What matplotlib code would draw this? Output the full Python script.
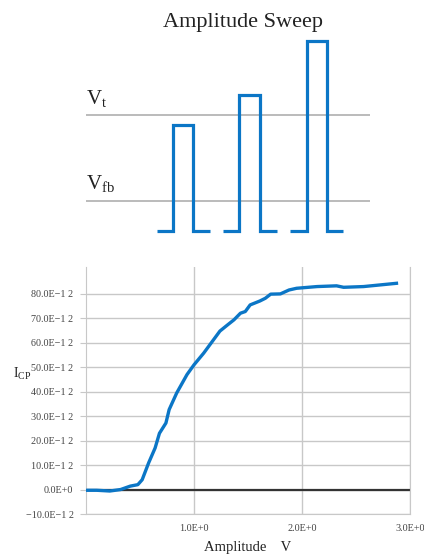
import matplotlib

matplotlib.use("Agg")
import matplotlib.pyplot as plt

plt.rcParams.update({
    "font.family": "Liberation Serif",
    "mathtext.fontset": "custom",
    "mathtext.rm": "Liberation Serif",
    "mathtext.it": "Liberation Serif:italic",
})

BLUE = "#0b76c6"
GRID = "#c8c8c8"

# --- top panel: pulse sketch (levels in arbitrary units, time in arbitrary units)
V_T = 1.16
V_FB = 0.30
LEVEL_X = [86, 370]
pulse_start = [157, 223, 290]
pulse_rise = [173, 239, 307]
pulse_fall = [193, 260, 327]
pulse_end = [210, 277, 343]
pulse_amp = [1.06, 1.36, 1.90]

# --- bottom panel: charge-pumping current vs amplitude
amp = [0.0, 0.10, 0.22, 0.32, 0.41, 0.48, 0.52, 0.58, 0.64, 0.68, 0.74, 0.77,
       0.84, 0.935, 1.0, 1.09, 1.18, 1.24, 1.31, 1.37, 1.43, 1.475, 1.52, 1.61,
       1.66, 1.71, 1.80, 1.88, 1.95, 2.14, 2.32, 2.385, 2.57, 2.89]
icp = [-0.3, -0.3, -0.6, 0.0, 1.4, 2.0, 4.0, 10.9, 17.0, 23.0, 27.2, 32.7,
       39.5, 47.0, 51.0, 55.8, 61.2, 64.8, 67.3, 69.4, 72.1, 72.8, 75.5, 77.1,
       78.2, 79.9, 80.0, 81.6, 82.3, 83.0, 83.3, 82.7, 83.0, 84.4]
y_ticks = [-10, 0, 10, 20, 30, 40, 50, 60, 70, 80]
y_labels = ["\u221210.0E\u22121 2", "0.0E+0"] + \
    [f"{v}.0E\u22121 2" for v in y_ticks[2:]]
x_ticks = [1, 2, 3]
x_labels = ["1.0E+0", "2.0E+0", "3.0E+0"]

W, H = 424, 557
fig = plt.figure(figsize=(W / 100, H / 100), dpi=100)

# top sketch
top = fig.add_axes([0, 1 - 250 / H, 1, 250 / H])
top.set_xlim(0, W)
top.set_ylim(-0.19, 2.31)
top.axis("off")
top.hlines([V_T, V_FB], LEVEL_X[0], LEVEL_X[1], color="#a8a8a8", lw=1.1)
for s, r, f, e, a in zip(pulse_start, pulse_rise, pulse_fall, pulse_end, pulse_amp):
    top.plot([s, r, r, f, f, e], [0, 0, a, a, 0, 0], color=BLUE, lw=2.3,
             solid_joinstyle="miter", solid_capstyle="butt")
top.text(243, 2.09, "Amplitude Sweep", ha="center", va="center", fontsize=16,
         color="#222222")
top.text(86, 1.27, r"V$_{\mathrm{t}}$", ha="left", va="baseline", fontsize=15,
         color="#222222")
top.text(86, 0.42, r"V$_{\mathrm{fb}}$", ha="left", va="baseline", fontsize=15,
         color="#222222")

# bottom chart
ax = fig.add_axes([86 / W, 1 - 514 / H, (410 - 86) / W, (514 - 267) / H])
ax.set_xlim(0, 3)
ax.set_ylim(-10, 91)
ax.set_yticks(y_ticks)
ax.set_yticklabels(y_labels)
ax.set_xticks(x_ticks)
ax.set_xticklabels(x_labels)
ax.grid(True, color=GRID, lw=1)
ax.set_axisbelow(True)
for side in ["left", "right", "bottom"]:
    ax.spines[side].set_color(GRID)
ax.spines["top"].set_visible(False)
ax.tick_params(axis="y", length=4, color=GRID, labelsize=7.3,
               labelcolor="#444444", pad=5)
ax.tick_params(axis="x", length=0, labelsize=7.3, labelcolor="#444444", pad=7)
ax.get_yticklines()[2].set_color("#333333")
ax.axhline(0, color="#333333", lw=1.6, zorder=2)
ax.plot(amp, icp, color=BLUE, lw=2.4, zorder=3, solid_capstyle="butt")

fig.text(13 / W, 1 - 374 / H, r"I$_{\mathrm{CP}}$", ha="left", va="center",
         fontsize=10, color="#222222")
fig.text(248 / W, 1 - 547 / H, "Amplitude    V", ha="center", va="center",
         fontsize=10.5, color="#222222")

fig.savefig("out.png", dpi=100)
